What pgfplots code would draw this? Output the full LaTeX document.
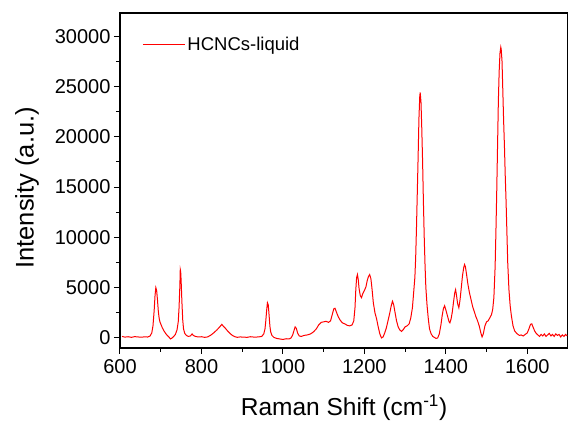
\documentclass[border=0pt]{standalone}
\usepackage{fontspec}
\setmainfont{Liberation Sans}
\usepackage{pgfplots}
\usepackage{pgfplotstable}
\pgfplotsset{compat=1.18}
\pgfplotstableread{
x y
605 150
612 80
620 120
628 60
636 130
644 100
652 70
660 110
668 90
674 200
678 500
681 1200
684 2800
686 4200
688 5000
690 4700
692 3800
694 2700
696 2000
698 1600
701 1300
704 1000
708 700
712 450
716 250
720 100
724 -100
728 0
732 150
736 350
740 800
743 1600
745 3000
747 5200
748 6800
749 6600
750 5800
752 3600
754 1800
756 900
759 450
763 250
768 150
773 200
777 400
780 250
785 150
792 100
800 120
808 60
815 100
822 250
830 500
838 800
845 1100
850 1350
853 1200
858 1000
864 700
870 450
876 250
882 120
888 60
895 100
903 80
912 60
920 120
930 80
940 100
948 150
953 400
956 900
958 1700
960 2700
962 3500
964 3300
966 2300
968 1200
970 600
973 250
978 50
985 -50
992 -100
1000 -150
1008 -80
1015 -100
1020 0
1024 300
1027 700
1030 1100
1033 950
1036 500
1040 200
1045 150
1052 250
1060 300
1068 400
1075 600
1082 900
1088 1300
1094 1550
1100 1600
1106 1650
1112 1550
1117 1700
1121 2300
1125 2900
1128 2950
1132 2500
1136 2100
1140 1800
1146 1500
1152 1400
1158 1250
1164 1200
1170 1300
1174 1700
1177 3000
1179 4800
1181 6000
1183 6300
1185 5800
1187 4900
1190 4200
1193 4000
1196 4400
1200 4700
1204 5100
1207 5700
1210 6100
1213 6300
1216 5900
1219 4800
1222 3500
1226 2500
1230 1900
1234 1100
1238 400
1242 0
1246 100
1250 500
1254 1000
1258 1700
1262 2400
1266 3200
1269 3650
1272 3300
1275 2600
1279 1700
1283 1100
1287 800
1291 650
1295 800
1300 1100
1305 1200
1310 1400
1314 2000
1318 3000
1321 4500
1324 6000
1326 8000
1328 11000
1330 14500
1332 18000
1334 21800
1336 24000
1337 24400
1339 23500
1341 20800
1343 17500
1345 13500
1347 10000
1349 7200
1351 5000
1354 3200
1357 1900
1360 900
1364 400
1368 150
1372 50
1376 -50
1380 0
1384 400
1388 1300
1391 2200
1394 2900
1397 3200
1400 2800
1404 2200
1408 1600
1410 1500
1413 1900
1416 2600
1419 3600
1422 4500
1424 4800
1426 4300
1429 3400
1432 3000
1435 3800
1438 5000
1441 6200
1444 7000
1446 7300
1448 7100
1451 6300
1454 5400
1458 4500
1462 3800
1466 3100
1470 2600
1474 2100
1478 1700
1482 1200
1486 500
1489 100
1492 400
1496 1200
1500 1600
1504 1700
1508 2000
1512 2300
1515 2800
1518 4000
1521 7000
1523 10500
1525 14500
1527 19000
1529 23500
1531 26500
1533 28300
1535 28900
1536 28700
1538 27500
1540 24500
1542 21500
1544 19000
1546 16000
1548 13500
1550 10500
1552 7500
1555 4800
1558 3200
1561 2200
1565 1200
1569 700
1573 500
1577 350
1581 250
1585 300
1590 200
1595 350
1600 500
1604 900
1608 1350
1611 1400
1614 1100
1618 700
1622 450
1626 300
1630 150
1634 350
1638 200
1642 400
1646 150
1650 300
1654 450
1658 200
1662 350
1666 150
1670 400
1674 250
1678 350
1682 100
1686 300
1690 150
1694 350
1698 200
}\spectrum
\begin{document}
\begin{tikzpicture}
\begin{axis}[
  width=448pt, height=335pt, scale only axis,
  xmin=600, xmax=1700, ymin=-1000, ymax=32300,
  xtick={600,800,...,1600}, ytick={0,5000,...,30000},
  minor x tick num=1, minor y tick num=1,
  tick align=outside, xtick pos=bottom, ytick pos=left,
  major tick length=6pt, minor tick length=4pt,
  axis line style={line width=1.3pt},
  every tick/.style={black, line width=1pt},
  ticklabel style={font=\fontsize{20}{22}\selectfont},
  xticklabel style={yshift=-2pt},
  /pgf/number format/assume math mode=true,
  /pgf/number format/1000 sep={},
  scaled y ticks=false,
  xlabel={Raman Shift (cm\textsuperscript{-1})},
  ylabel={Intensity (a.u.)},
  xlabel style={font=\fontsize{24.5}{27}\selectfont, at={(axis description cs:0.5,-0.179)}, anchor=center},
  ylabel style={font=\fontsize{25.5}{28}\selectfont, at={(axis description cs:-0.2076,0.478)}, anchor=center},
  legend style={draw=none, fill=none, at={(axis description cs:0.043,0.94)}, anchor=north west, font=\fontsize{18.5}{21}\selectfont},
  legend cell align=left,
  legend image code/.code={\draw[#1] (0pt,0pt) -- (42pt,0pt);},
]
\addplot[red, line width=1pt] table[x=x, y=y] {\spectrum};
\addlegendentry{HCNCs-liquid}
\end{axis}
\pgfresetboundingbox
\useasboundingbox ([shift={(-120pt,-77pt)}]current axis.south west) rectangle ([shift={(448pt,348pt)}]current axis.south west);
\end{tikzpicture}
\end{document}
